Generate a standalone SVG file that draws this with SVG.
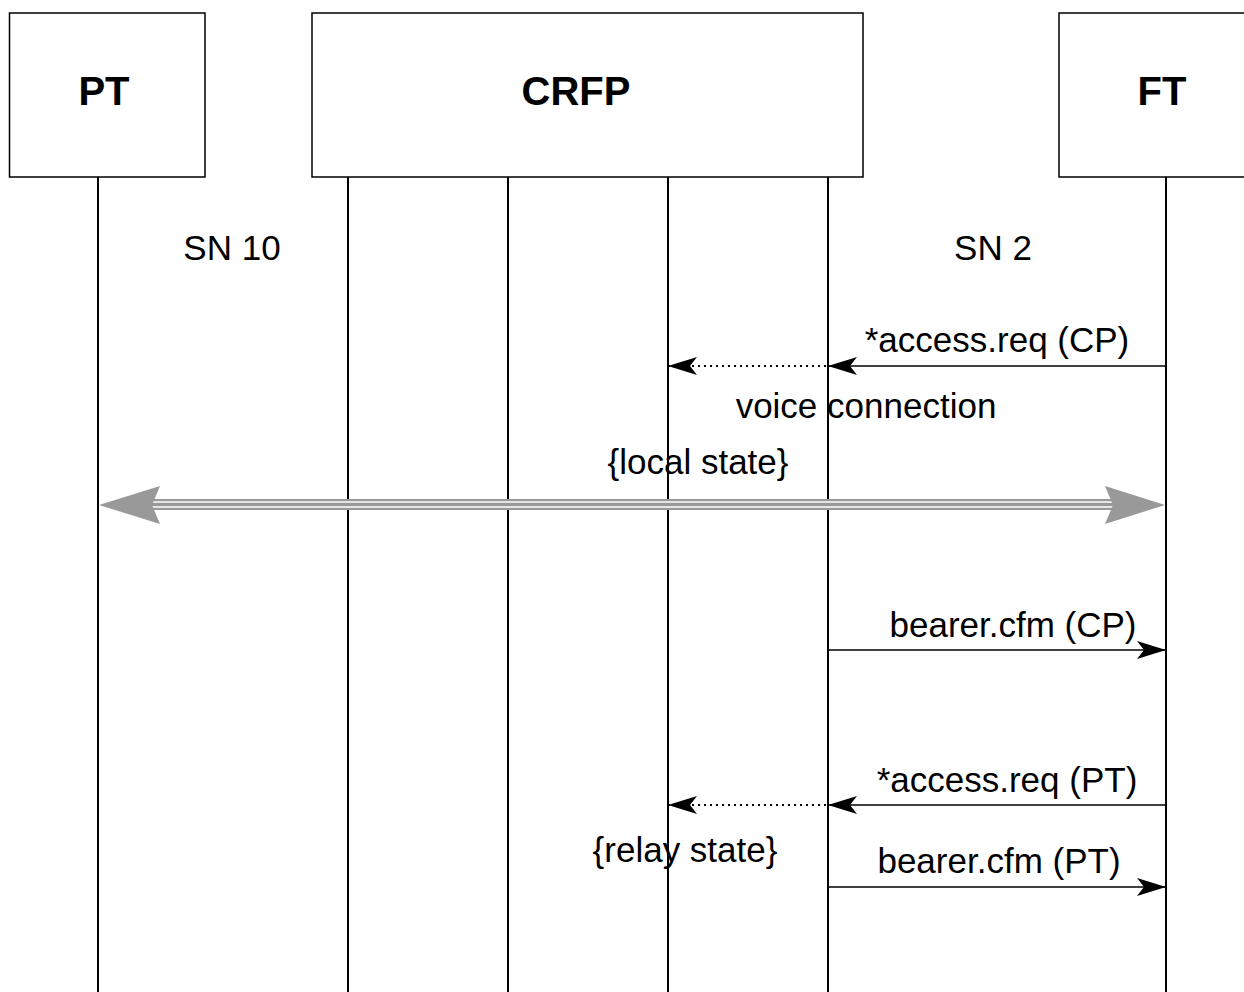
<svg xmlns="http://www.w3.org/2000/svg" width="1244" height="992" viewBox="0 0 1244 992">
<defs>
<style>
.box{fill:#fff;stroke:#000;stroke-width:1.5}
.life{stroke:#000;stroke-width:2;fill:none}
.title{font-family:"Liberation Sans",Arial,sans-serif;font-weight:bold;font-size:40px;text-anchor:middle}
.lbl{font-family:"Liberation Sans",Arial,sans-serif;font-size:35px;text-anchor:middle}
.msg{stroke:#000;stroke-width:1.5;fill:none}
.dot{stroke:#000;stroke-width:2;fill:none;stroke-dasharray:2 4}
</style>
<marker id="ah" markerUnits="userSpaceOnUse" markerWidth="32" markerHeight="22" refX="29" refY="10" orient="auto">
<path d="M29,10 L0,1 L7,10 L0,19 Z" fill="#000"/>
</marker>
</defs>
<g id="PT">
<rect class="box" x="9.5" y="13" width="195.5" height="164"/>
<text class="title" x="104" y="105">PT</text>
</g>
<g id="CRFP">
<rect class="box" x="312" y="13" width="551" height="164"/>
<text class="title" x="576" y="105">CRFP</text>
</g>
<g id="FT">
<rect class="box" x="1059" y="13" width="220" height="164"/>
<text class="title" x="1162" y="105">FT</text>
</g>
<g id="lifelines">
<line class="life" x1="98" y1="177" x2="98" y2="992"/>
<line class="life" x1="348" y1="177" x2="348" y2="992"/>
<line class="life" x1="508" y1="177" x2="508" y2="992"/>
<line class="life" x1="668" y1="177" x2="668" y2="992"/>
<line class="life" x1="828" y1="177" x2="828" y2="992"/>
<line class="life" x1="1166" y1="177" x2="1166" y2="992"/>
</g>
<g id="labels">
<text class="lbl" x="232" y="260">SN 10</text>
<text class="lbl" x="993" y="260">SN 2</text>
<text class="lbl" x="997" y="352">*access.req (CP)</text>
<text class="lbl" x="866" y="418">voice connection</text>
<text class="lbl" x="698" y="474">{local state}</text>
<text class="lbl" x="1013" y="637">bearer.cfm (CP)</text>
<text class="lbl" x="1007" y="792">*access.req (PT)</text>
<text class="lbl" x="685" y="862">{relay state}</text>
<text class="lbl" x="999" y="873">bearer.cfm (PT)</text>
</g>
<g id="connectors">
<line class="msg" x1="1166" y1="366" x2="828" y2="366" marker-end="url(#ah)"/>
<line class="dot" x1="826" y1="366" x2="668" y2="366" marker-end="url(#ah)"/>
<g id="double">
<line x1="150" y1="504.5" x2="1114" y2="504.5" stroke="#999" stroke-width="11"/>
<line x1="150" y1="502" x2="1114" y2="502" stroke="#fff" stroke-width="1.5"/>
<line x1="150" y1="507" x2="1114" y2="507" stroke="#fff" stroke-width="1.5"/>
<path d="M99,505 L160,486 L152,505 L160,524 Z" fill="#999"/>
<path d="M1165,505 L1105,486 L1113,505 L1105,524 Z" fill="#999"/>
</g>
<line class="msg" x1="828" y1="650" x2="1166" y2="650" marker-end="url(#ah)"/>
<line class="msg" x1="1166" y1="805" x2="828" y2="805" marker-end="url(#ah)"/>
<line class="dot" x1="826" y1="805" x2="668" y2="805" marker-end="url(#ah)"/>
<line class="msg" x1="828" y1="887" x2="1166" y2="887" marker-end="url(#ah)"/>
</g>
</svg>
